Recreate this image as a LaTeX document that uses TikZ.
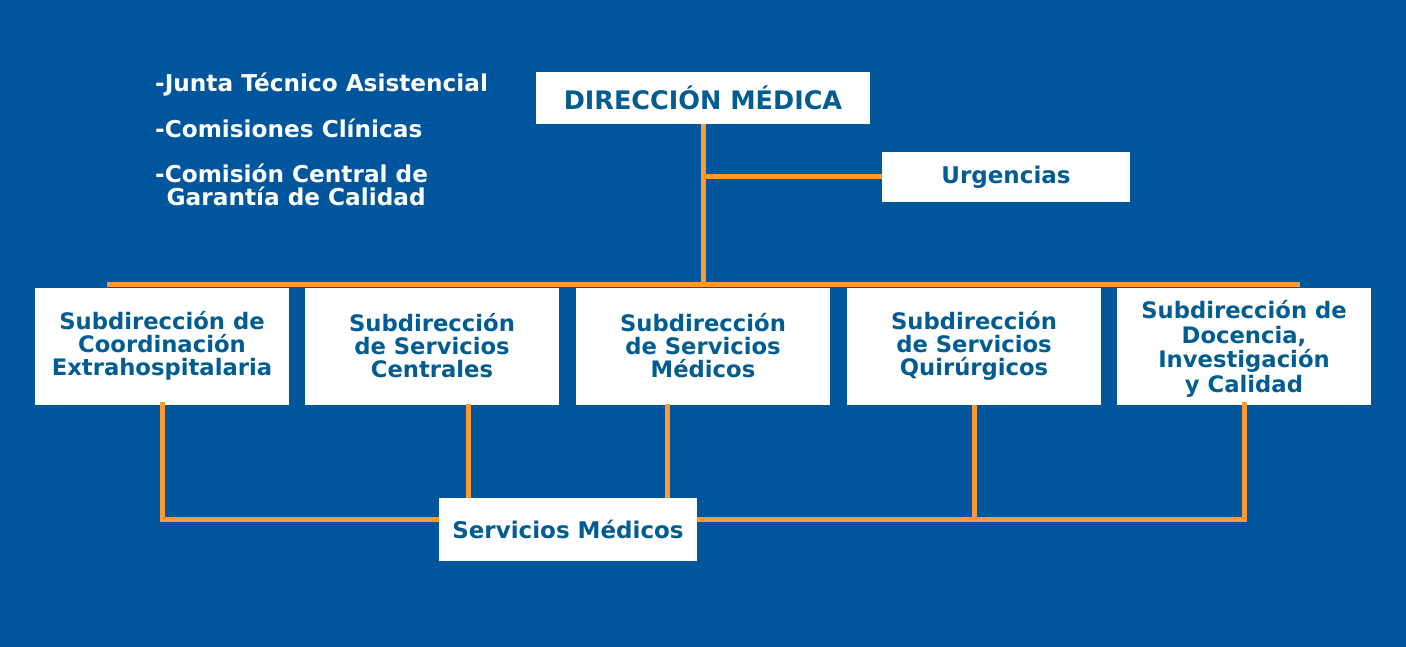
\documentclass[tikz,border=0pt]{standalone}
\usepackage{fontspec}
\setmainfont{DejaVu Sans}[BoldFont={DejaVu Sans Bold}]
\definecolor{bgblue}{RGB}{0,86,157}
\definecolor{txtblue}{RGB}{0,92,145}
\definecolor{lineor}{RGB}{255,153,51}
\tikzset{
  box/.style={fill=white, draw=none, inner sep=0pt, align=center, text=txtblue,
    font=\bfseries\fontsize{22.7}{23}\selectfont},
  subbox/.style={box, minimum width=254pt, minimum height=117pt},
  link/.style={draw=lineor, line width=5pt},
  note/.style={text=white, anchor=base west, inner sep=0pt,
    font=\bfseries\fontsize{23.2}{24}\selectfont}
}
\begin{document}
\begin{tikzpicture}[x=1pt,y=-1pt]
\fill[bgblue] (0,0) rectangle (1406,647);
\useasboundingbox (0,0) rectangle (1406,647);

% bus lines
\coordinate (busL) at (107,284);
\coordinate (busR) at (1300,284);
\coordinate (botL) at (161,519);

% notes
\node[note] (n1) at (155,91.5) {-Junta Técnico Asistencial};
\node[note] (n2) at (155,137.5) {-Comisiones Clínicas};
\node[note] (n3) at (155,182.5) {-Comisión Central de};
\node[note] (n4) at (166.5,205.5) {Garantía de Calidad};

% nodes
\node[box, minimum width=334pt, minimum height=52pt, font=\bfseries\fontsize{25.5}{27}\selectfont] (dm) at (703,98) {DIRECCIÓN MÉDICA};
\node[box, minimum width=248pt, minimum height=50pt, font=\bfseries\fontsize{23}{24}\selectfont] (urg) at (1006,177) {Urgencias};

\node[subbox] (s1) at (162,346) {Subdirección de\\Coordinación\\Extrahospitalaria};
\node[subbox] (s2) at (432,346) {Subdirección\\de Servicios\\Centrales};
\node[subbox] (s3) at (703,346) {Subdirección\\de Servicios\\Médicos};
\node[subbox] (s4) at (974,346) {Subdirección\\de Servicios\\Quirúrgicos};
\node[subbox] (s5) at (1244,346) {};
\node[box, fill=none, font=\bfseries\fontsize{22.7}{24.7}\selectfont] (s5t) at ([yshift=-3pt]s5.center) {Subdirección de\\Docencia,\\Investigación\\y Calidad};

% connectors
\draw[link] (busL) -- (busR);
\draw[link] (dm.south) -- (dm.south |- busL);
\draw[link] (dm.south |- urg.west) -- (urg.west);

\draw[link, line cap=rect] (s1.south) -- (s1.south |- botL) -- (s5.south |- botL) -- (s5.south);
\draw[link] (s4.south) -- (s4.south |- botL);
\coordinate (c2) at (468.5,404);
\coordinate (c3) at (667.5,404);

\node[box, minimum width=258pt, minimum height=63pt, font=\bfseries\fontsize{23}{24}\selectfont] (sm) at (568,529.5) {Servicios Médicos};
\draw[link] (c2) -- (c2 |- sm.north);
\draw[link] (c3) -- (c3 |- sm.north);
\end{tikzpicture}
\end{document}
